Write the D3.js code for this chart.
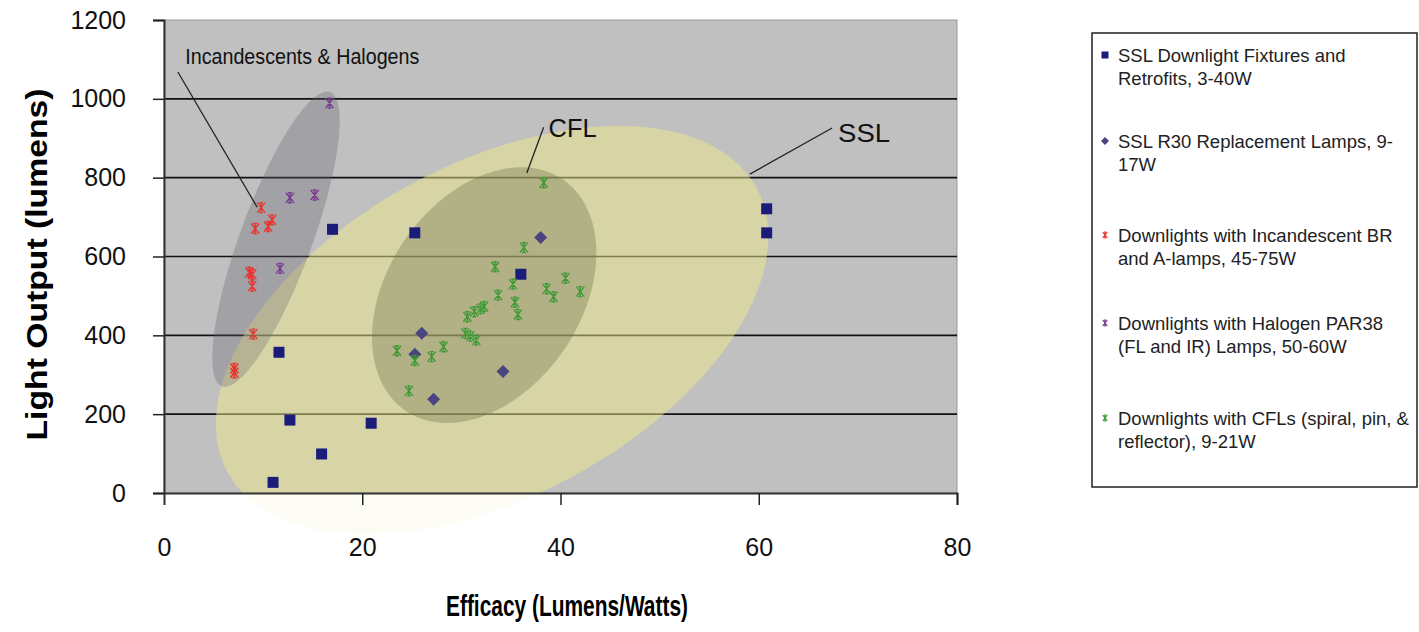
<!DOCTYPE html>
<html lang="en">
<head>
<meta charset="UTF-8">
<title>Light Output vs Efficacy</title>
<script src="https://d3js.org/d3.v7.min.js"></script>
<style>
    body { margin: 0; padding: 0; background: #fff; }
    svg { font-family: "Liberation Sans", Arial, sans-serif; display: block; }
</style>
</head>
<body>
<svg width="1419" height="632"></svg>
<script>
    // axis ticks
    const xTicks = [0, 20, 40, 60, 80];
    const yTicks = [0, 200, 400, 600, 800, 1000, 1200];

    // series values: [efficacy, lumens]
    const sslFixtures = [[17.0, 669], [25.3, 660], [60.8, 721], [60.8, 660], [36.0, 555],
        [11.6, 357], [12.7, 185], [20.9, 177], [15.9, 99], [11.0, 27]];
    const sslR30 = [[38.0, 648], [26.0, 405], [25.3, 352], [34.2, 308], [27.2, 238]];
    const incandescent = [[9.8, 724], [9.2, 671], [10.5, 676], [10.9, 693], [8.6, 560],
        [8.9, 555], [8.9, 525], [9.0, 403], [7.1, 316], [7.1, 305]];
    const halogen = [[12.7, 749], [15.2, 756], [11.7, 570], [16.7, 989]];
    const cfl = [[38.3, 787], [36.3, 623], [33.4, 574], [35.2, 530], [33.7, 502], [35.4, 484],
        [35.7, 453], [40.5, 545], [38.6, 518], [39.3, 498], [42.0, 511], [31.9, 467],
        [31.3, 460], [30.6, 447], [32.3, 473], [30.4, 405], [30.9, 398], [31.5, 388],
        [28.2, 371], [23.5, 361], [27.0, 346], [25.3, 336], [24.7, 259]];

    const legendLabels = [
        ["SSL Downlight Fixtures and", "Retrofits, 3-40W"],
        ["SSL R30 Replacement Lamps, 9-", "17W"],
        ["Downlights with Incandescent BR", "and A-lamps, 45-75W"],
        ["Downlights with Halogen PAR38", "(FL and IR) Lamps, 50-60W"],
        ["Downlights with CFLs (spiral, pin, &", "reflector), 9-21W"]
    ];

    // grouping ellipses: centre, major and minor semi-axis vectors (data units)
    const ellipses = [
        { name: "SSL", c: [33.1, 413], u: [26.7, 360], v: [8.0, -373], fill: "rgba(240,236,140,0.45)" },
        { name: "Incandescents & Halogens", c: [11.3, 644], u: [5.45, 373], v: [3.4, -31.5], fill: "rgba(100,100,110,0.28)" },
        { name: "CFL", c: [32.3, 502], u: [7.9, 294], v: [8.1, -137], fill: "rgba(110,110,80,0.33)" }
    ];

    // callout labels: text anchor and leader line (data units)
    const callouts = [
        { text: "Incandescents & Halogens", at: [2.15, 1088], from: [1.4, 1068], to: [9.4, 725], size: 22, len: 234 },
        { text: "CFL", at: [38.8, 903], from: [38.3, 928], to: [36.6, 812], size: 25, len: 48 },
        { text: "SSL", at: [68.0, 890], from: [67.4, 926], to: [59.1, 809], size: 26, len: 52 }
    ];

    const svg = d3.select("svg");
    const plot = { left: 164, right: 957, top: 20, bottom: 493 };

    const x = d3.scaleLinear().domain([0, 80]).range([plot.left, plot.right]);
    const y = d3.scaleLinear().domain([0, 1200]).range([plot.bottom, plot.top]);

    svg.append("defs").append("clipPath").attr("id", "plotClip")
        .append("rect")
        .attr("x", plot.left).attr("y", plot.top)
        .attr("width", plot.right - plot.left).attr("height", plot.bottom - plot.top);

    // plot background
    svg.append("rect")
        .attr("x", plot.left).attr("y", plot.top)
        .attr("width", plot.right - plot.left).attr("height", plot.bottom - plot.top)
        .attr("fill", "#c0c0c0")
        .attr("stroke", "#9a9a9a");

    // gridlines
    svg.append("g")
        .selectAll("line")
        .data(yTicks.filter(d => d > 0 && d < 1200))
        .join("line")
        .attr("x1", plot.left).attr("x2", plot.right)
        .attr("y1", d => y(d)).attr("y2", d => y(d))
        .attr("stroke", "#111").attr("stroke-width", 1.6);

    // ellipses (a faint bleed outside the plot, full inside)
    const ellipseLine = d3.line().curve(d3.curveLinearClosed);
    const ellipsePath = e => ellipseLine(d3.range(0, 360, 3).map(a => {
        const t = a * Math.PI / 180;
        return [x(e.c[0] + e.u[0] * Math.cos(t) + e.v[0] * Math.sin(t)),
                y(e.c[1] + e.u[1] * Math.cos(t) + e.v[1] * Math.sin(t))];
    }));
    svg.append("g")
        .selectAll("path")
        .data(ellipses)
        .join("path")
        .attr("d", ellipsePath)
        .attr("fill", d => d.fill)
        .attr("opacity", 0.2);
    svg.append("g")
        .attr("clip-path", "url(#plotClip)")
        .selectAll("path")
        .data(ellipses)
        .join("path")
        .attr("d", ellipsePath)
        .attr("fill", d => d.fill);

    // axes
    const yAxis = svg.append("g")
        .attr("transform", `translate(${plot.left},0)`)
        .call(d3.axisLeft(y).tickValues(yTicks).tickFormat(d3.format("d")).tickSize(11).tickPadding(27));
    const xAxis = svg.append("g")
        .attr("transform", `translate(0,${plot.bottom})`)
        .call(d3.axisBottom(x).tickValues(xTicks).tickFormat(d3.format("d")).tickSize(12).tickPadding(33));
    [xAxis, yAxis].forEach(a => {
        a.select(".domain").attr("stroke", "#333").attr("stroke-width", 2);
        a.selectAll(".tick line").attr("stroke", "#222").attr("stroke-width", 1.5);
        a.selectAll("text").attr("font-size", 25).attr("fill", "#111")
            .attr("font-family", "'Liberation Sans', Arial, sans-serif");
    });
    xAxis.select(".tick line").remove();

    // axis titles
    svg.append("text")
        .attr("transform", `translate(47,${(plot.top + plot.bottom) / 2 + 8}) rotate(-90)`)
        .attr("text-anchor", "middle")
        .attr("font-size", 30).attr("font-weight", "bold")
        .attr("textLength", 352).attr("lengthAdjust", "spacingAndGlyphs")
        .text("Light Output (lumens)");
    svg.append("text")
        .attr("x", 567).attr("y", 616)
        .attr("text-anchor", "middle")
        .attr("font-size", 30).attr("font-weight", "bold")
        .attr("textLength", 242).attr("lengthAdjust", "spacingAndGlyphs")
        .text("Efficacy (Lumens/Watts)");

    // callouts
    const co = svg.append("g");
    co.selectAll("line")
        .data(callouts)
        .join("line")
        .attr("x1", d => x(d.from[0])).attr("y1", d => y(d.from[1]))
        .attr("x2", d => x(d.to[0])).attr("y2", d => y(d.to[1]))
        .attr("stroke", "#222").attr("stroke-width", 1.3);
    co.selectAll("text")
        .data(callouts)
        .join("text")
        .attr("x", d => x(d.at[0])).attr("y", d => y(d.at[1]))
        .attr("font-size", d => d.size)
        .attr("textLength", d => d.len).attr("lengthAdjust", "spacingAndGlyphs")
        .attr("fill", "#111")
        .text(d => d.text);

    // markers
    const starPath = s => `M${-s * 0.8},${-s}L${s * 0.8},${s}M${s * 0.8},${-s}L${-s * 0.8},${s}M0,${-s}L0,${s}` +
        `M${-s * 0.4},${-s}L${s * 0.4},${-s}M${-s * 0.4},${s}L${s * 0.4},${s}`;
    const series = [
        { data: sslFixtures, shape: "square", color: "#1b1b7a" },
        { data: sslR30, shape: "diamond", color: "#4a4480" },
        { data: incandescent, shape: "star", color: "#e8332e" },
        { data: halogen, shape: "star", color: "#7a3a8e" },
        { data: cfl, shape: "star", color: "#3f9a35" }
    ];

    function drawMarker(g, shape, color, big) {
        if (shape === "square") {
            const s = big ? 5.5 : 3.5;
            g.append("rect").attr("x", -s).attr("y", -s).attr("width", 2 * s).attr("height", 2 * s)
                .attr("fill", color);
        } else if (shape === "diamond") {
            const s = big ? 6.5 : 4;
            g.append("path").attr("d", `M0,${-s}L${s},0L0,${s}L${-s},0Z`).attr("fill", color);
        } else {
            g.append("path").attr("d", starPath(big ? 5 : 3))
                .attr("fill", "none").attr("stroke", color).attr("stroke-width", big ? 1.4 : 1.1);
        }
    }

    series.forEach(s => {
        svg.append("g")
            .selectAll("g")
            .data(s.data)
            .join("g")
            .attr("transform", d => `translate(${x(d[0])},${y(d[1])})`)
            .each(function () { drawMarker(d3.select(this), s.shape, s.color, true); });
    });

    // legend
    const legend = svg.append("g");
    legend.append("rect")
        .attr("x", 1092).attr("y", 33).attr("width", 325).attr("height", 454)
        .attr("fill", "#fff").attr("stroke", "#222").attr("stroke-width", 1.5);
    const legendY = [55, 141, 235, 323, 418];
    series.forEach((s, i) => {
        const g = legend.append("g").attr("transform", `translate(1105,${legendY[i]})`);
        drawMarker(g, s.shape, s.color, false);
        legendLabels[i].forEach((line, j) => {
            g.append("text").attr("x", 13).attr("y", 7 + j * 23)
                .attr("font-size", 18.5).attr("fill", "#222").text(line);
        });
    });
</script>
</body>
</html>
